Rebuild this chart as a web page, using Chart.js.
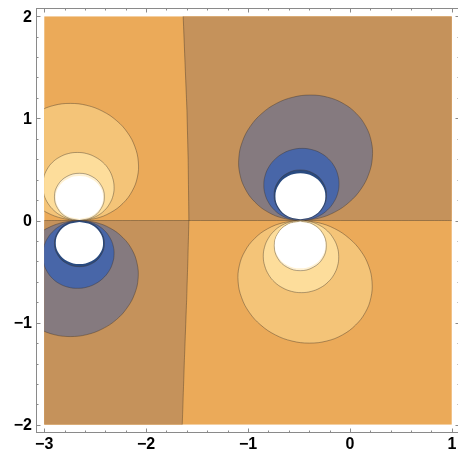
<!DOCTYPE html>
<html>
<head>
<meta charset="utf-8">
<script src="https://cdn.jsdelivr.net/npm/chart.js@4.4.1/dist/chart.umd.min.js"></script>
<style>
  html, body { margin: 0; padding: 0; background: #fff; overflow: hidden; }
  #wrap { position: absolute; left: 0; top: 0; width: 470px; height: 456px; }
</style>
</head>
<body>
<div id="wrap"><canvas id="chart" width="470" height="456"></canvas></div>
<script>
// plot range and ticks
const xRange = [-3, 1];
const yRange = [-2, 2];
const xTickValues = [-3, -2, -1, 0, 1];
const xTickLabels = ["−3", "−2", "−1", "0", "1"];
const yTickValues = [-2, -1, 0, 1, 2];
const yTickLabels = ["−2", "−1", "0", "1", "2"];

// zero contours (y = 0 line and the near vertical one around x = -1.6)
const zeroLine = [[-3, 0], [1, 0]];
const dividerTop = [[-1.636, 2], [-1.619, 1.57], [-1.599, 1.08], [-1.587, 0.592], [-1.58, 0]];
const dividerBottom = [[-1.58, 0], [-1.59, -0.386], [-1.602, -0.777], [-1.624, -1.364], [-1.645, -2]];

// left dipole, upper lobe (contour outlines)
const ulOuter = [[-2.654,0],[-2.494,0.020],[-2.349,0.077],[-2.227,0.168],[-2.137,0.287],[-2.085,0.425],[-2.076,0.573],[-2.109,0.721],[-2.182,0.860],[-2.290,0.978],[-2.426,1.069],[-2.581,1.127],[-2.743,1.146],[-2.903,1.127],[-3.049,1.069],[-3.171,0.978],[-3.261,0.860],[-3.312,0.721],[-3.322,0.573],[-3.289,0.425],[-3.216,0.287],[-3.108,0.168],[-2.972,0.077],[-2.817,0.020],[-2.654,0]];
const ulYellow = [[-2.654,0],[-2.564,0.011],[-2.480,0.045],[-2.409,0.098],[-2.356,0.167],[-2.323,0.247],[-2.314,0.333],[-2.329,0.419],[-2.366,0.500],[-2.424,0.569],[-2.498,0.621],[-2.583,0.655],[-2.674,0.666],[-2.764,0.655],[-2.848,0.621],[-2.919,0.569],[-2.972,0.500],[-3.005,0.419],[-3.014,0.333],[-3.000,0.247],[-2.962,0.167],[-2.904,0.098],[-2.830,0.045],[-2.745,0.011],[-2.654,0]];
const ulPale = [[-2.654,0],[-2.531,0.031],[-2.442,0.116],[-2.409,0.231],[-2.442,0.347],[-2.531,0.431],[-2.654,0.462],[-2.777,0.431],[-2.866,0.347],[-2.899,0.231],[-2.866,0.116],[-2.777,0.031],[-2.654,0]];
const ulWhite = [[-2.654,0.015],[-2.538,0.043],[-2.453,0.12],[-2.422,0.225],[-2.453,0.33],[-2.538,0.407],[-2.654,0.435],[-2.77,0.407],[-2.855,0.33],[-2.886,0.225],[-2.855,0.12],[-2.77,0.043],[-2.654,0.015]];

// left dipole, lower lobe
const llGray = [[-2.654,0],[-2.495,-0.019],[-2.350,-0.076],[-2.229,-0.166],[-2.139,-0.284],[-2.088,-0.421],[-2.078,-0.568],[-2.111,-0.715],[-2.184,-0.852],[-2.291,-0.970],[-2.427,-1.060],[-2.581,-1.117],[-2.743,-1.136],[-2.902,-1.117],[-3.047,-1.060],[-3.168,-0.970],[-3.257,-0.852],[-3.309,-0.715],[-3.318,-0.568],[-3.286,-0.421],[-3.213,-0.284],[-3.105,-0.166],[-2.970,-0.076],[-2.816,-0.019],[-2.654,0]];
const llBlue = [[-2.654,0],[-2.564,-0.011],[-2.480,-0.045],[-2.409,-0.097],[-2.356,-0.166],[-2.323,-0.246],[-2.314,-0.332],[-2.329,-0.418],[-2.366,-0.498],[-2.424,-0.567],[-2.498,-0.620],[-2.583,-0.653],[-2.674,-0.664],[-2.764,-0.653],[-2.848,-0.620],[-2.919,-0.567],[-2.972,-0.498],[-3.005,-0.418],[-3.014,-0.332],[-3.000,-0.246],[-2.962,-0.166],[-2.904,-0.097],[-2.830,-0.045],[-2.745,-0.011],[-2.654,0]];
const llDark = [[-2.654,0],[-2.531,-0.03],[-2.442,-0.113],[-2.409,-0.226],[-2.442,-0.339],[-2.531,-0.422],[-2.654,-0.452],[-2.777,-0.422],[-2.866,-0.339],[-2.899,-0.226],[-2.866,-0.113],[-2.777,-0.03],[-2.654,0]];
const llWhite = [[-2.654,-0.015],[-2.538,-0.042],[-2.453,-0.117],[-2.422,-0.22],[-2.453,-0.323],[-2.538,-0.398],[-2.654,-0.425],[-2.77,-0.398],[-2.855,-0.323],[-2.886,-0.22],[-2.855,-0.117],[-2.77,-0.042],[-2.654,-0.015]];

// right dipole, upper lobe
const urGray = [[-0.483,0],[-0.312,0.021],[-0.149,0.082],[-0.006,0.180],[0.108,0.307],[0.185,0.455],[0.220,0.614],[0.210,0.773],[0.156,0.921],[0.062,1.048],[-0.066,1.146],[-0.219,1.207],[-0.387,1.228],[-0.558,1.207],[-0.721,1.146],[-0.864,1.048],[-0.978,0.921],[-1.055,0.773],[-1.090,0.614],[-1.080,0.455],[-1.026,0.307],[-0.932,0.180],[-0.804,0.082],[-0.651,0.021],[-0.483,0]];
const urBlue = [[-0.483,0],[-0.387,0.012],[-0.298,0.047],[-0.220,0.103],[-0.160,0.177],[-0.121,0.262],[-0.107,0.353],[-0.118,0.444],[-0.153,0.530],[-0.210,0.603],[-0.285,0.659],[-0.374,0.694],[-0.469,0.706],[-0.565,0.694],[-0.654,0.659],[-0.732,0.603],[-0.792,0.530],[-0.831,0.444],[-0.845,0.353],[-0.834,0.262],[-0.799,0.177],[-0.742,0.103],[-0.667,0.047],[-0.578,0.012],[-0.483,0]];
const urDark = [[-0.487,0.005],[-0.358,0.038],[-0.264,0.127],[-0.23,0.25],[-0.264,0.373],[-0.358,0.462],[-0.487,0.495],[-0.616,0.462],[-0.71,0.373],[-0.744,0.25],[-0.71,0.127],[-0.616,0.038],[-0.487,0.005]];
const urWhite = [[-0.486,0.012],[-0.364,0.042],[-0.274,0.125],[-0.241,0.237],[-0.274,0.35],[-0.364,0.432],[-0.486,0.462],[-0.609,0.432],[-0.698,0.35],[-0.731,0.237],[-0.698,0.125],[-0.609,0.042],[-0.486,0.012]];

// right dipole, lower lobe
const lrOrange = [[-0.483,0],[-0.312,-0.021],[-0.149,-0.080],[-0.006,-0.176],[0.108,-0.300],[0.184,-0.445],[0.217,-0.600],[0.206,-0.755],[0.151,-0.900],[0.055,-1.024],[-0.074,-1.120],[-0.228,-1.180],[-0.397,-1.200],[-0.568,-1.180],[-0.731,-1.120],[-0.874,-1.024],[-0.987,-0.900],[-1.063,-0.755],[-1.097,-0.600],[-1.086,-0.445],[-1.030,-0.300],[-0.935,-0.176],[-0.806,-0.080],[-0.652,-0.021],[-0.483,0]];
const lrYellow = [[-0.483,0],[-0.387,-0.012],[-0.298,-0.047],[-0.220,-0.103],[-0.161,-0.177],[-0.123,-0.262],[-0.110,-0.353],[-0.121,-0.444],[-0.157,-0.530],[-0.215,-0.603],[-0.291,-0.659],[-0.380,-0.694],[-0.476,-0.706],[-0.572,-0.694],[-0.661,-0.659],[-0.739,-0.603],[-0.798,-0.530],[-0.836,-0.444],[-0.850,-0.353],[-0.838,-0.262],[-0.802,-0.177],[-0.744,-0.103],[-0.668,-0.047],[-0.579,-0.012],[-0.483,0]];
const lrPale = [[-0.487,-0.005],[-0.36,-0.038],[-0.266,-0.127],[-0.232,-0.248],[-0.266,-0.37],[-0.36,-0.458],[-0.487,-0.491],[-0.615,-0.458],[-0.708,-0.37],[-0.742,-0.248],[-0.708,-0.127],[-0.615,-0.038],[-0.487,-0.005]];
const lrWhite = [[-0.489,-0.013],[-0.365,-0.043],[-0.274,-0.127],[-0.241,-0.24],[-0.274,-0.354],[-0.365,-0.437],[-0.489,-0.467],[-0.613,-0.437],[-0.704,-0.354],[-0.737,-0.24],[-0.704,-0.127],[-0.613,-0.043],[-0.489,-0.013]];

const colors = {
  orange: "#EBAA59",
  tan: "#C5925B",
  lightOrange: "#F4C478",
  lightYellow: "#FDDD9B",
  pale: "#FFF1D2",
  gray: "#857A7F",
  blue: "#4866A8",
  darkBlue: "#294A80",
  white: "#FFFFFF",
  contour: "rgba(60, 50, 40, 0.5)",
};

const toPts = (arr) => arr.map(([x, y]) => ({ x: x, y: y }));

function region(pts, color, withLine, tension) {
  return {
    data: toPts(pts),
    showLine: true,
    fill: "shape",
    backgroundColor: color,
    borderColor: withLine ? colors.contour : "rgba(0,0,0,0)",
    borderWidth: withLine ? 0.8 : 0,
    tension: tension,
    pointRadius: 0,
  };
}

// tiny tension so chart.js does not take the fast (pixel snapping) path
function contourLine(pts) {
  return {
    data: toPts(pts),
    showLine: true,
    fill: false,
    borderColor: colors.contour,
    borderWidth: 0.8,
    tension: 0.0001,
    pointRadius: 0,
  };
}

const plotRect = [[xRange[0], yRange[0]], [xRange[1], yRange[0]], [xRange[1], yRange[1]], [xRange[0], yRange[1]], [xRange[0], yRange[0]]];
const tanTopRight = [...dividerTop, [xRange[1], 0], [xRange[1], yRange[1]], dividerTop[0]];
const tanBottomLeft = [[xRange[0], 0], ...dividerBottom, [xRange[0], yRange[0]], [xRange[0], 0]];

// back to front
const layers = [
  region(plotRect, colors.orange, false, 0),
  region(tanTopRight, colors.tan, false, 0.0001),
  region(tanBottomLeft, colors.tan, false, 0.0001),
  contourLine(zeroLine),
  contourLine([...dividerTop, ...dividerBottom.slice(1)]),
  region(ulOuter, colors.lightOrange, true, 0.4),
  region(ulYellow, colors.lightYellow, true, 0.4),
  region(ulPale, colors.pale, true, 0.4),
  region(ulWhite, colors.white, false, 0.4),
  region(llGray, colors.gray, true, 0.4),
  region(llBlue, colors.blue, true, 0.4),
  region(llDark, colors.darkBlue, true, 0.4),
  region(llWhite, colors.white, false, 0.4),
  region(urGray, colors.gray, true, 0.4),
  region(urBlue, colors.blue, true, 0.4),
  region(urDark, colors.darkBlue, true, 0.4),
  region(urWhite, colors.white, false, 0.4),
  region(lrOrange, colors.lightOrange, true, 0.4),
  region(lrYellow, colors.lightYellow, true, 0.4),
  region(lrPale, colors.pale, true, 0.4),
  region(lrWhite, colors.white, false, 0.4),
];
// higher order is drawn first
layers.forEach((ds, i) => { ds.order = layers.length - i; });

// keep the contour fills inside -3..1, -2..2 (the frame has some padding)
const clipToData = {
  id: "clipToData",
  beforeDatasetsDraw(chart) {
    const { ctx, scales: { x, y } } = chart;
    const l = x.getPixelForValue(xRange[0]);
    const r = x.getPixelForValue(xRange[1]);
    const t = y.getPixelForValue(yRange[1]);
    const b = y.getPixelForValue(yRange[0]);
    ctx.save();
    ctx.beginPath();
    ctx.rect(l, t, r - l, b - t);
    ctx.clip();
  },
  afterDatasetsDraw(chart) {
    chart.ctx.restore();
  },
};

// mathematica style frame, ticks pointing inwards
const frame = {
  id: "frame",
  afterDraw(chart) {
    const { ctx, chartArea: a, scales: { x, y } } = chart;
    ctx.save();
    ctx.strokeStyle = "#8a8a8a";
    ctx.lineWidth = 1;
    ctx.strokeRect(a.left + 0.5, a.top + 0.5, a.right - a.left - 1, a.bottom - a.top - 1);

    ctx.beginPath();
    for (let i = 0; i <= 20; i++) {
      const v = xRange[0] + i * 0.2;
      const len = i % 5 === 0 ? 4.5 : 2.5;
      const px = Math.round(x.getPixelForValue(v)) + 0.5;
      ctx.moveTo(px, a.bottom);
      ctx.lineTo(px, a.bottom - len);
      ctx.moveTo(px, a.top);
      ctx.lineTo(px, a.top + len);
    }
    for (let i = 0; i <= 20; i++) {
      const v = yRange[0] + i * 0.2;
      const len = i % 5 === 0 ? 4.5 : 2.5;
      const py = Math.round(y.getPixelForValue(v)) + 0.5;
      ctx.moveTo(a.left, py);
      ctx.lineTo(a.left + len, py);
      ctx.moveTo(a.right, py);
      ctx.lineTo(a.right - len, py);
    }
    ctx.stroke();

    ctx.fillStyle = "#000";
    ctx.font = 'bold 16px "Liberation Sans", Arial, sans-serif';
    ctx.textAlign = "center";
    ctx.textBaseline = "top";
    xTickValues.forEach((v, i) => {
      ctx.fillText(xTickLabels[i], x.getPixelForValue(v), a.bottom + 4);
    });
    ctx.textAlign = "right";
    ctx.textBaseline = "middle";
    yTickValues.forEach((v, i) => {
      ctx.fillText(yTickLabels[i], a.left - 4, y.getPixelForValue(v) + 1);
    });
    ctx.restore();
  },
};

const ctx = document.getElementById("chart").getContext("2d");
const chart = new Chart(ctx, {
  type: "scatter",
  data: { datasets: layers },
  options: {
    responsive: false,
    animation: false,
    devicePixelRatio: 1,
    layout: { padding: { left: 36, top: 8, right: 10, bottom: 23 } },
    scales: {
      x: { type: "linear", min: -3.08, max: 1.08, display: false },
      y: { type: "linear", min: -2.08, max: 2.08, display: false },
    },
    plugins: {
      legend: { display: false },
      tooltip: { enabled: false },
    },
  },
  plugins: [clipToData, frame],
});
</script>
</body>
</html>
